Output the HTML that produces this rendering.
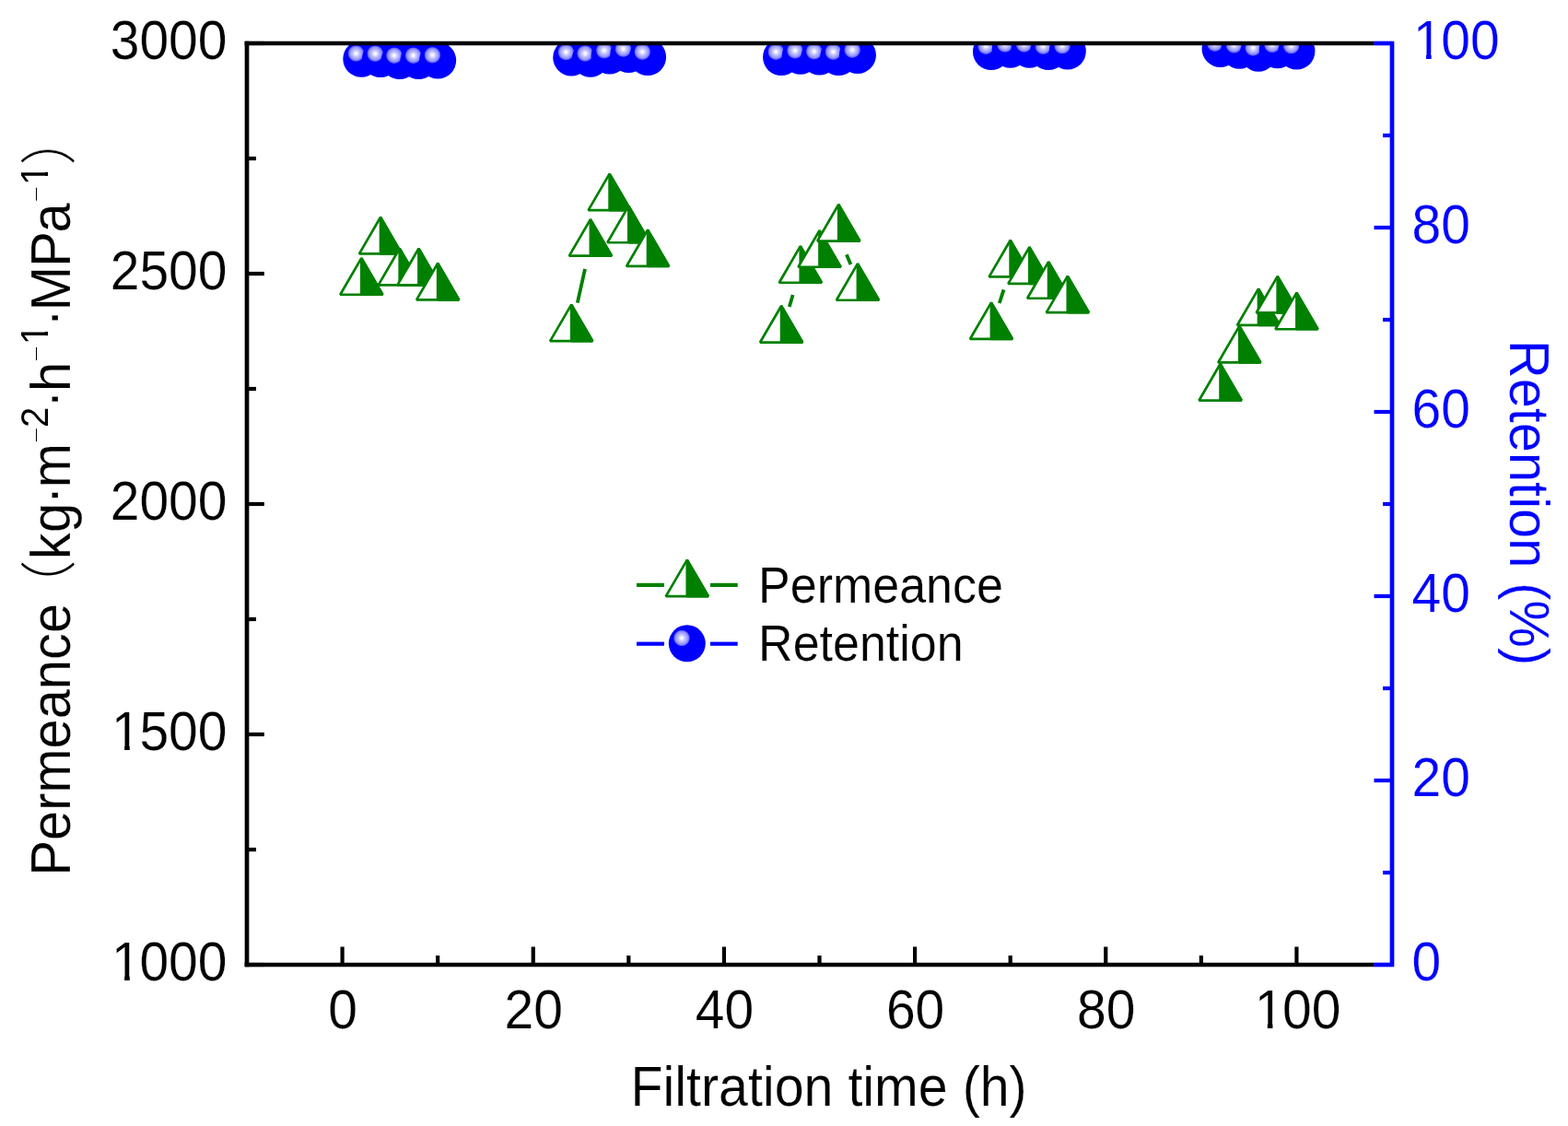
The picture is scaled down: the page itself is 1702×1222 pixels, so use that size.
<!DOCTYPE html>
<html><head><meta charset="utf-8"><title>Permeance and Retention vs Filtration time</title>
<style>
html,body{margin:0;padding:0;background:#fff;}
body{width:1702px;height:1222px;overflow:hidden;}
svg{display:block;filter:blur(0.45px);}
text{font-family:'Liberation Sans', Arial, 'Noto Sans CJK SC', sans-serif;stroke:#fff;stroke-width:0.2px;paint-order:fill stroke;stroke-linejoin:round;}
</style></head><body>
<svg width="1702" height="1222" viewBox="0 0 1702 1222">
<defs>
<radialGradient id="sg" cx="0.355" cy="0.355" r="0.225" fx="0.355" fy="0.355">
<stop offset="0" stop-color="#ffffff"/>
<stop offset="0.13" stop-color="#f6f6ff"/>
<stop offset="0.4" stop-color="#c4c4ff"/>
<stop offset="0.75" stop-color="#9494ff"/>
<stop offset="0.92" stop-color="#5858ff"/>
<stop offset="1" stop-color="#0000ff"/>
</radialGradient>
<clipPath id="pa"><rect x="268.0" y="47.0" width="1243.0" height="1000.0"/></clipPath>
</defs>
<rect x="0" y="0" width="1702" height="1222" fill="#fff"/>

<g clip-path="url(#pa)">
<line x1="635.0" y1="291.8" x2="626.8" y2="328.6" stroke="#008000" stroke-width="3.8"/>
<line x1="860.6" y1="320.0" x2="856.8" y2="333.0" stroke="#008000" stroke-width="3.8"/>
<line x1="918.9" y1="276.2" x2="923.4" y2="287.0" stroke="#008000" stroke-width="3.8"/>
<line x1="1089.5" y1="314.3" x2="1084.8" y2="329.0" stroke="#008000" stroke-width="3.8"/>
<path d="M392.30 280.18L415.33 319.75L369.27 319.75Z" fill="#fff" stroke="#008000" stroke-width="2.7" stroke-linejoin="bevel"/>
<path d="M392.30 280.18L415.33 319.75L392.30 319.75Z" fill="#008000" stroke="#008000" stroke-width="2.7" stroke-linejoin="bevel"/>
<path d="M413.02 235.78L436.05 275.35L389.99 275.35Z" fill="#fff" stroke="#008000" stroke-width="2.7" stroke-linejoin="bevel"/>
<path d="M413.02 235.78L436.05 275.35L413.02 275.35Z" fill="#008000" stroke="#008000" stroke-width="2.7" stroke-linejoin="bevel"/>
<path d="M433.73 269.78L456.76 309.35L410.70 309.35Z" fill="#fff" stroke="#008000" stroke-width="2.7" stroke-linejoin="bevel"/>
<path d="M433.73 269.78L456.76 309.35L433.73 309.35Z" fill="#008000" stroke="#008000" stroke-width="2.7" stroke-linejoin="bevel"/>
<path d="M454.45 269.78L477.48 309.35L431.42 309.35Z" fill="#fff" stroke="#008000" stroke-width="2.7" stroke-linejoin="bevel"/>
<path d="M454.45 269.78L477.48 309.35L454.45 309.35Z" fill="#008000" stroke="#008000" stroke-width="2.7" stroke-linejoin="bevel"/>
<path d="M475.17 285.78L498.20 325.35L452.14 325.35Z" fill="#fff" stroke="#008000" stroke-width="2.7" stroke-linejoin="bevel"/>
<path d="M475.17 285.78L498.20 325.35L475.17 325.35Z" fill="#008000" stroke="#008000" stroke-width="2.7" stroke-linejoin="bevel"/>
<path d="M620.18 330.57L643.21 370.15L597.15 370.15Z" fill="#fff" stroke="#008000" stroke-width="2.7" stroke-linejoin="bevel"/>
<path d="M620.18 330.57L643.21 370.15L620.18 370.15Z" fill="#008000" stroke="#008000" stroke-width="2.7" stroke-linejoin="bevel"/>
<path d="M640.90 238.08L663.93 277.65L617.87 277.65Z" fill="#fff" stroke="#008000" stroke-width="2.7" stroke-linejoin="bevel"/>
<path d="M640.90 238.08L663.93 277.65L640.90 277.65Z" fill="#008000" stroke="#008000" stroke-width="2.7" stroke-linejoin="bevel"/>
<path d="M661.62 188.58L684.65 228.15L638.59 228.15Z" fill="#fff" stroke="#008000" stroke-width="2.7" stroke-linejoin="bevel"/>
<path d="M661.62 188.58L684.65 228.15L661.62 228.15Z" fill="#008000" stroke="#008000" stroke-width="2.7" stroke-linejoin="bevel"/>
<path d="M682.33 223.68L705.36 263.25L659.30 263.25Z" fill="#fff" stroke="#008000" stroke-width="2.7" stroke-linejoin="bevel"/>
<path d="M682.33 223.68L705.36 263.25L682.33 263.25Z" fill="#008000" stroke="#008000" stroke-width="2.7" stroke-linejoin="bevel"/>
<path d="M703.05 249.38L726.08 288.95L680.02 288.95Z" fill="#fff" stroke="#008000" stroke-width="2.7" stroke-linejoin="bevel"/>
<path d="M703.05 249.38L726.08 288.95L703.05 288.95Z" fill="#008000" stroke="#008000" stroke-width="2.7" stroke-linejoin="bevel"/>
<path d="M848.07 331.98L871.10 371.55L825.04 371.55Z" fill="#fff" stroke="#008000" stroke-width="2.7" stroke-linejoin="bevel"/>
<path d="M848.07 331.98L871.10 371.55L848.07 371.55Z" fill="#008000" stroke="#008000" stroke-width="2.7" stroke-linejoin="bevel"/>
<path d="M868.78 267.18L891.81 306.75L845.75 306.75Z" fill="#fff" stroke="#008000" stroke-width="2.7" stroke-linejoin="bevel"/>
<path d="M868.78 267.18L891.81 306.75L868.78 306.75Z" fill="#008000" stroke="#008000" stroke-width="2.7" stroke-linejoin="bevel"/>
<path d="M889.50 250.18L912.53 289.75L866.47 289.75Z" fill="#fff" stroke="#008000" stroke-width="2.7" stroke-linejoin="bevel"/>
<path d="M889.50 250.18L912.53 289.75L889.50 289.75Z" fill="#008000" stroke="#008000" stroke-width="2.7" stroke-linejoin="bevel"/>
<path d="M910.22 221.98L933.25 261.55L887.19 261.55Z" fill="#fff" stroke="#008000" stroke-width="2.7" stroke-linejoin="bevel"/>
<path d="M910.22 221.98L933.25 261.55L910.22 261.55Z" fill="#008000" stroke="#008000" stroke-width="2.7" stroke-linejoin="bevel"/>
<path d="M930.93 286.18L953.96 325.75L907.90 325.75Z" fill="#fff" stroke="#008000" stroke-width="2.7" stroke-linejoin="bevel"/>
<path d="M930.93 286.18L953.96 325.75L930.93 325.75Z" fill="#008000" stroke="#008000" stroke-width="2.7" stroke-linejoin="bevel"/>
<path d="M1075.95 328.38L1098.98 367.95L1052.92 367.95Z" fill="#fff" stroke="#008000" stroke-width="2.7" stroke-linejoin="bevel"/>
<path d="M1075.95 328.38L1098.98 367.95L1075.95 367.95Z" fill="#008000" stroke="#008000" stroke-width="2.7" stroke-linejoin="bevel"/>
<path d="M1096.67 260.78L1119.70 300.35L1073.64 300.35Z" fill="#fff" stroke="#008000" stroke-width="2.7" stroke-linejoin="bevel"/>
<path d="M1096.67 260.78L1119.70 300.35L1096.67 300.35Z" fill="#008000" stroke="#008000" stroke-width="2.7" stroke-linejoin="bevel"/>
<path d="M1117.38 268.28L1140.41 307.85L1094.35 307.85Z" fill="#fff" stroke="#008000" stroke-width="2.7" stroke-linejoin="bevel"/>
<path d="M1117.38 268.28L1140.41 307.85L1117.38 307.85Z" fill="#008000" stroke="#008000" stroke-width="2.7" stroke-linejoin="bevel"/>
<path d="M1138.10 284.18L1161.13 323.75L1115.07 323.75Z" fill="#fff" stroke="#008000" stroke-width="2.7" stroke-linejoin="bevel"/>
<path d="M1138.10 284.18L1161.13 323.75L1138.10 323.75Z" fill="#008000" stroke="#008000" stroke-width="2.7" stroke-linejoin="bevel"/>
<path d="M1158.82 299.57L1181.85 339.15L1135.79 339.15Z" fill="#fff" stroke="#008000" stroke-width="2.7" stroke-linejoin="bevel"/>
<path d="M1158.82 299.57L1181.85 339.15L1158.82 339.15Z" fill="#008000" stroke="#008000" stroke-width="2.7" stroke-linejoin="bevel"/>
<path d="M1324.55 394.98L1347.58 434.55L1301.52 434.55Z" fill="#fff" stroke="#008000" stroke-width="2.7" stroke-linejoin="bevel"/>
<path d="M1324.55 394.98L1347.58 434.55L1324.55 434.55Z" fill="#008000" stroke="#008000" stroke-width="2.7" stroke-linejoin="bevel"/>
<path d="M1345.27 353.88L1368.30 393.45L1322.24 393.45Z" fill="#fff" stroke="#008000" stroke-width="2.7" stroke-linejoin="bevel"/>
<path d="M1345.27 353.88L1368.30 393.45L1345.27 393.45Z" fill="#008000" stroke="#008000" stroke-width="2.7" stroke-linejoin="bevel"/>
<path d="M1365.98 313.38L1389.01 352.95L1342.95 352.95Z" fill="#fff" stroke="#008000" stroke-width="2.7" stroke-linejoin="bevel"/>
<path d="M1365.98 313.38L1389.01 352.95L1365.98 352.95Z" fill="#008000" stroke="#008000" stroke-width="2.7" stroke-linejoin="bevel"/>
<path d="M1386.70 299.88L1409.73 339.45L1363.67 339.45Z" fill="#fff" stroke="#008000" stroke-width="2.7" stroke-linejoin="bevel"/>
<path d="M1386.70 299.88L1409.73 339.45L1386.70 339.45Z" fill="#008000" stroke="#008000" stroke-width="2.7" stroke-linejoin="bevel"/>
<path d="M1407.42 317.68L1430.45 357.25L1384.39 357.25Z" fill="#fff" stroke="#008000" stroke-width="2.7" stroke-linejoin="bevel"/>
<path d="M1407.42 317.68L1430.45 357.25L1407.42 357.25Z" fill="#008000" stroke="#008000" stroke-width="2.7" stroke-linejoin="bevel"/>
<circle cx="392.30" cy="63.80" r="20.0" fill="url(#sg)"/>
<circle cx="413.02" cy="64.00" r="20.0" fill="url(#sg)"/>
<circle cx="433.73" cy="66.00" r="20.0" fill="url(#sg)"/>
<circle cx="454.45" cy="66.00" r="20.0" fill="url(#sg)"/>
<circle cx="475.17" cy="65.60" r="20.0" fill="url(#sg)"/>
<circle cx="620.18" cy="62.40" r="20.0" fill="url(#sg)"/>
<circle cx="640.90" cy="63.80" r="20.0" fill="url(#sg)"/>
<circle cx="661.62" cy="60.60" r="20.0" fill="url(#sg)"/>
<circle cx="682.33" cy="58.90" r="20.0" fill="url(#sg)"/>
<circle cx="703.05" cy="62.00" r="20.0" fill="url(#sg)"/>
<circle cx="848.07" cy="62.00" r="20.0" fill="url(#sg)"/>
<circle cx="868.78" cy="60.70" r="20.0" fill="url(#sg)"/>
<circle cx="889.50" cy="61.60" r="20.0" fill="url(#sg)"/>
<circle cx="910.22" cy="62.00" r="20.0" fill="url(#sg)"/>
<circle cx="930.93" cy="59.90" r="20.0" fill="url(#sg)"/>
<circle cx="1075.95" cy="56.00" r="20.0" fill="url(#sg)"/>
<circle cx="1096.67" cy="53.80" r="20.0" fill="url(#sg)"/>
<circle cx="1117.38" cy="53.80" r="20.0" fill="url(#sg)"/>
<circle cx="1138.10" cy="56.00" r="20.0" fill="url(#sg)"/>
<circle cx="1158.82" cy="55.50" r="20.0" fill="url(#sg)"/>
<circle cx="1324.55" cy="52.90" r="20.0" fill="url(#sg)"/>
<circle cx="1345.27" cy="54.70" r="20.0" fill="url(#sg)"/>
<circle cx="1365.98" cy="57.70" r="20.0" fill="url(#sg)"/>
<circle cx="1386.70" cy="54.20" r="20.0" fill="url(#sg)"/>
<circle cx="1407.42" cy="55.50" r="20.0" fill="url(#sg)"/>
</g>
<g stroke-linecap="butt" fill="none">
<line x1="371.58" y1="1047.0" x2="371.58" y2="1027.5" stroke="#000" stroke-width="4.2"/>
<line x1="475.17" y1="1047.0" x2="475.17" y2="1037.0" stroke="#000" stroke-width="4.2"/>
<line x1="578.75" y1="1047.0" x2="578.75" y2="1027.5" stroke="#000" stroke-width="4.2"/>
<line x1="682.33" y1="1047.0" x2="682.33" y2="1037.0" stroke="#000" stroke-width="4.2"/>
<line x1="785.92" y1="1047.0" x2="785.92" y2="1027.5" stroke="#000" stroke-width="4.2"/>
<line x1="889.50" y1="1047.0" x2="889.50" y2="1037.0" stroke="#000" stroke-width="4.2"/>
<line x1="993.08" y1="1047.0" x2="993.08" y2="1027.5" stroke="#000" stroke-width="4.2"/>
<line x1="1096.67" y1="1047.0" x2="1096.67" y2="1037.0" stroke="#000" stroke-width="4.2"/>
<line x1="1200.25" y1="1047.0" x2="1200.25" y2="1027.5" stroke="#000" stroke-width="4.2"/>
<line x1="1303.83" y1="1047.0" x2="1303.83" y2="1037.0" stroke="#000" stroke-width="4.2"/>
<line x1="1407.42" y1="1047.0" x2="1407.42" y2="1027.5" stroke="#000" stroke-width="4.2"/>
<line x1="268.0" y1="1047.00" x2="286.8" y2="1047.00" stroke="#000" stroke-width="4.2"/>
<line x1="268.0" y1="922.00" x2="278.0" y2="922.00" stroke="#000" stroke-width="4.2"/>
<line x1="268.0" y1="797.00" x2="286.8" y2="797.00" stroke="#000" stroke-width="4.2"/>
<line x1="268.0" y1="672.00" x2="278.0" y2="672.00" stroke="#000" stroke-width="4.2"/>
<line x1="268.0" y1="547.00" x2="286.8" y2="547.00" stroke="#000" stroke-width="4.2"/>
<line x1="268.0" y1="422.00" x2="278.0" y2="422.00" stroke="#000" stroke-width="4.2"/>
<line x1="268.0" y1="297.00" x2="286.8" y2="297.00" stroke="#000" stroke-width="4.2"/>
<line x1="268.0" y1="172.00" x2="278.0" y2="172.00" stroke="#000" stroke-width="4.2"/>
<line x1="268.0" y1="47.00" x2="286.8" y2="47.00" stroke="#000" stroke-width="4.2"/>
<line x1="1511.0" y1="1047.00" x2="1491.5" y2="1047.00" stroke="#0000ff" stroke-width="4.2"/>
<line x1="1511.0" y1="947.00" x2="1501.0" y2="947.00" stroke="#0000ff" stroke-width="4.2"/>
<line x1="1511.0" y1="847.00" x2="1491.5" y2="847.00" stroke="#0000ff" stroke-width="4.2"/>
<line x1="1511.0" y1="747.00" x2="1501.0" y2="747.00" stroke="#0000ff" stroke-width="4.2"/>
<line x1="1511.0" y1="647.00" x2="1491.5" y2="647.00" stroke="#0000ff" stroke-width="4.2"/>
<line x1="1511.0" y1="547.00" x2="1501.0" y2="547.00" stroke="#0000ff" stroke-width="4.2"/>
<line x1="1511.0" y1="447.00" x2="1491.5" y2="447.00" stroke="#0000ff" stroke-width="4.2"/>
<line x1="1511.0" y1="347.00" x2="1501.0" y2="347.00" stroke="#0000ff" stroke-width="4.2"/>
<line x1="1511.0" y1="247.00" x2="1491.5" y2="247.00" stroke="#0000ff" stroke-width="4.2"/>
<line x1="1511.0" y1="147.00" x2="1501.0" y2="147.00" stroke="#0000ff" stroke-width="4.2"/>
<line x1="1511.0" y1="47.00" x2="1491.5" y2="47.00" stroke="#0000ff" stroke-width="4.2"/>
<path d="M268.0 44.65V1049.35" stroke="#000" stroke-width="4.7"/>
<path d="M265.65 47.0H1491.5M265.65 1047.0H1491.5" stroke="#000" stroke-width="4.7"/>
<path d="M1491.5 47.0H1511.0V1047.0H1491.5" stroke="#0000ff" stroke-width="4.7" stroke-linejoin="miter"/>
</g>
<g transform="translate(119.70 1064.30) scale(1 1.053)"><text x="1.39 31.70 63.40 95.10" y="0" font-size="57" fill="#000">1000</text><rect x="4.23" y="-5.76" width="11.19" height="7.26" fill="#fff"/><rect x="21.06" y="-5.76" width="10.75" height="7.26" fill="#fff"/></g>
<g transform="translate(119.70 814.30) scale(1 1.053)"><text x="1.39 31.70 63.40 95.10" y="0" font-size="57" fill="#000">1500</text><rect x="4.23" y="-5.76" width="11.19" height="7.26" fill="#fff"/><rect x="21.06" y="-5.76" width="10.75" height="7.26" fill="#fff"/></g>
<g transform="translate(119.70 564.30) scale(1 1.053)"><text x="0.00 31.70 63.40 95.10" y="0" font-size="57" fill="#000">2000</text></g>
<g transform="translate(119.70 314.30) scale(1 1.053)"><text x="0.00 31.70 63.40 95.10" y="0" font-size="57" fill="#000">2500</text></g>
<g transform="translate(119.70 64.30) scale(1 1.053)"><text x="0.00 31.70 63.40 95.10" y="0" font-size="57" fill="#000">3000</text></g>
<g transform="translate(356.23 1115.80) scale(1 1.053)"><text x="0.00" y="0" font-size="57" fill="#000">0</text></g>
<g transform="translate(547.55 1115.80) scale(1 1.053)"><text x="0.00 31.70" y="0" font-size="57" fill="#000">20</text></g>
<g transform="translate(754.72 1115.80) scale(1 1.053)"><text x="0.00 31.70" y="0" font-size="57" fill="#000">40</text></g>
<g transform="translate(961.88 1115.80) scale(1 1.053)"><text x="0.00 31.70" y="0" font-size="57" fill="#000">60</text></g>
<g transform="translate(1169.05 1115.80) scale(1 1.053)"><text x="0.00 31.70" y="0" font-size="57" fill="#000">80</text></g>
<g transform="translate(1360.37 1115.80) scale(1 1.053)"><text x="1.39 31.70 63.40" y="0" font-size="57" fill="#000">100</text><rect x="4.23" y="-5.76" width="11.19" height="7.26" fill="#fff"/><rect x="21.06" y="-5.76" width="10.75" height="7.26" fill="#fff"/></g>
<g transform="translate(1532.60 1063.70) scale(1 1.053)"><text x="0.00" y="0" font-size="57" fill="#0000ff">0</text></g>
<g transform="translate(1532.60 863.70) scale(1 1.053)"><text x="0.00 31.70" y="0" font-size="57" fill="#0000ff">20</text></g>
<g transform="translate(1532.60 663.70) scale(1 1.053)"><text x="0.00 31.70" y="0" font-size="57" fill="#0000ff">40</text></g>
<g transform="translate(1532.60 463.70) scale(1 1.053)"><text x="0.00 31.70" y="0" font-size="57" fill="#0000ff">60</text></g>
<g transform="translate(1532.60 263.70) scale(1 1.053)"><text x="0.00 31.70" y="0" font-size="57" fill="#0000ff">80</text></g>
<g transform="translate(1532.60 63.70) scale(1 1.053)"><text x="1.39 31.70 63.40" y="0" font-size="57" fill="#0000ff">100</text><rect x="4.23" y="-5.76" width="11.19" height="7.26" fill="#fff"/><rect x="21.06" y="-5.76" width="10.75" height="7.26" fill="#fff"/></g>
<text transform="translate(684.6 1200.1) scale(1 1.053)" font-size="57.35" fill="#000">Filtration time (h)</text>
<text transform="translate(1638.8 368.9) rotate(90) scale(1 1.053)" font-size="57.8" fill="#0000ff">Retention (%)</text>
<g transform="translate(76.2 0.8) rotate(-90) scale(1 1.053)"><text font-size="57.8" fill="#000"><tspan x="-949.70" y="0">Permeance</tspan><tspan x="-665.40" y="-0.96" font-size="58.5" font-family="'Noto Sans CJK SC', sans-serif" font-weight="300">（</tspan><tspan x="-606.40 -577.30 -546.10 -528.50" y="0 0 0 0">kg·m</tspan><tspan x="-479.80" y="-22.8" font-size="31.5" stroke="none" style="stroke:none" font-family="'Noto Sans CJK SC', sans-serif" font-weight="100">−</tspan><tspan x="-463.20" y="-23.1" font-size="40" style="stroke:none">2</tspan><tspan x="-442.00 -424.20" y="0 0">·h</tspan><tspan x="-391.50" y="-22.8" font-size="31.5" stroke="none" style="stroke:none" font-family="'Noto Sans CJK SC', sans-serif" font-weight="100">−</tspan><tspan x="-373.10" y="-23.1" font-size="40" style="stroke:none">1</tspan><tspan x="-353.70 -336.50 -288.90 -251.70" y="0 0 0 0">·MPa</tspan><tspan x="-218.30" y="-22.8" font-size="31.5" stroke="none" style="stroke:none" font-family="'Noto Sans CJK SC', sans-serif" font-weight="100">−</tspan><tspan x="-199.90" y="-23.1" font-size="40" style="stroke:none">1</tspan><tspan x="-178.40" y="-0.96" font-size="58.5" font-family="'Noto Sans CJK SC', sans-serif" font-weight="300">）</tspan></text><rect x="-371.25" y="-27.29" width="7.91" height="5.39" fill="#fff"/><rect x="-359.21" y="-27.29" width="7.60" height="5.39" fill="#fff"/><rect x="-198.05" y="-27.29" width="7.91" height="5.39" fill="#fff"/><rect x="-186.01" y="-27.29" width="7.60" height="5.39" fill="#fff"/></g>
<g stroke-linecap="butt">
<line x1="691" y1="634.9" x2="721" y2="634.9" stroke="#008000" stroke-width="4.2"/>
<line x1="771" y1="634.9" x2="800.7" y2="634.9" stroke="#008000" stroke-width="4.2"/>
<path d="M745.80 607.57L768.83 647.15L722.77 647.15Z" fill="#fff" stroke="#008000" stroke-width="2.7" stroke-linejoin="bevel"/>
<path d="M745.80 607.57L768.83 647.15L745.80 647.15Z" fill="#008000" stroke="#008000" stroke-width="2.7" stroke-linejoin="bevel"/>
<line x1="691" y1="698.7" x2="721" y2="698.7" stroke="#0000ff" stroke-width="4.2"/>
<line x1="771" y1="698.7" x2="800.7" y2="698.7" stroke="#0000ff" stroke-width="4.2"/>
<circle cx="745.80" cy="698.30" r="20.0" fill="url(#sg)"/>
</g>
<text transform="translate(823.1 653.5) scale(1 1.053)" font-size="52" fill="#000">Permeance</text>
<text transform="translate(823.1 717.3) scale(1 1.053)" font-size="52" fill="#000">Retention</text>
</svg>
</body></html>
